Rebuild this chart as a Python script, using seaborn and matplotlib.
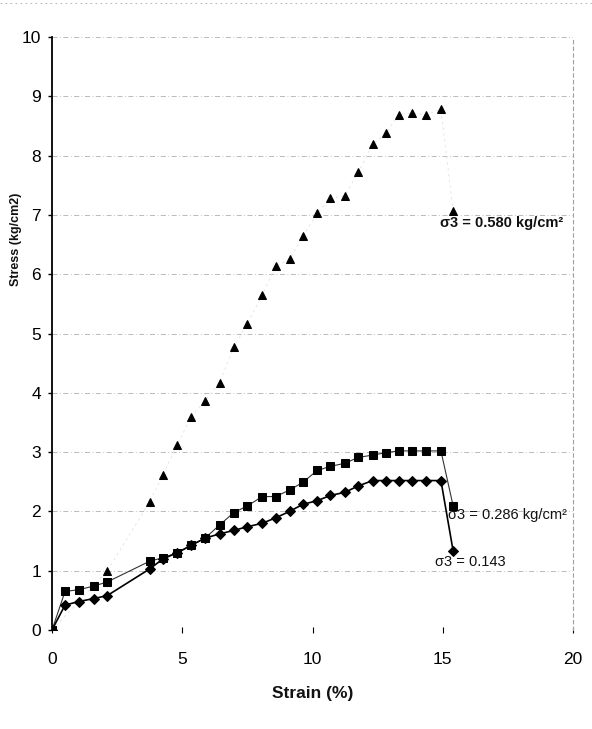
import matplotlib
matplotlib.use("Agg")
import matplotlib.pyplot as plt
from matplotlib.lines import Line2D
import pandas as pd
import seaborn as sns

# ---- data ----
strain = [0, 0.5, 1.03, 1.6, 2.12, 3.75, 4.26, 4.8, 5.35, 5.88, 6.43, 6.98, 7.49, 8.07,
          8.58, 9.12, 9.63, 10.18, 10.69, 11.23, 11.76, 12.31, 12.82, 13.31, 13.82,
          14.36, 14.93, 15.4]
stress_0143 = [0, 0.42, 0.48, 0.53, 0.58, 1.03, 1.20, 1.30, 1.43, 1.55, 1.62, 1.68, 1.74,
               1.80, 1.89, 2.00, 2.12, 2.18, 2.27, 2.32, 2.43, 2.52, 2.52, 2.52, 2.52,
               2.52, 2.52, 1.33]
stress_0286 = [0, 0.65, 0.68, 0.74, 0.81, 1.16, 1.22, 1.30, 1.43, 1.55, 1.77, 1.98, 2.09,
               2.25, 2.25, 2.36, 2.49, 2.69, 2.76, 2.81, 2.91, 2.95, 2.99, 3.02, 3.02,
               3.02, 3.02, 2.09]
strain_0580 = [0, 2.12, 3.75, 4.26, 4.8, 5.35, 5.88, 6.43, 6.98, 7.49, 8.07, 8.58, 9.12,
               9.63, 10.18, 10.69, 11.23, 11.76, 12.31, 12.82, 13.31, 13.82, 14.36,
               14.93, 15.4]
stress_0580 = [0, 1.0, 2.16, 2.62, 3.12, 3.6, 3.87, 4.17, 4.77, 5.16, 5.65, 6.13, 6.25,
               6.64, 7.03, 7.28, 7.32, 7.72, 8.19, 8.38, 8.69, 8.72, 8.69, 8.78, 7.07]

x_ticks = [0, 5, 10, 15, 20]
x_tick_labels = ["0", "5", "10", "15", "20"]
y_ticks = list(range(0, 11))

labels = ["σ3 = 0.580 kg/cm²", "σ3 = 0.286 kg/cm²", "σ3 = 0.143"]

df143 = pd.DataFrame({"strain": strain, "stress": stress_0143})
df286 = pd.DataFrame({"strain": strain, "stress": stress_0286})
df580 = pd.DataFrame({"strain": strain_0580, "stress": stress_0580})

# ---- figure ----
sns.set_theme(style="white")
plt.rcParams["font.family"] = ["Liberation Sans", "DejaVu Sans"]

W, H = 592, 729
fig = plt.figure(figsize=(W / 100, H / 100), dpi=100)
ax = fig.add_axes([52 / W, 1 - 630 / H, (573 - 52) / W, (630 - 37) / H])

# triangles (very faint line in the scan)
sns.lineplot(data=df580, x="strain", y="stress", ax=ax, sort=False, estimator=None,
             color="#e2e2e2", lw=0.6, linestyle=(0, (3, 4)), marker="^", markersize=6,
             markerfacecolor="black", markeredgecolor="black", zorder=3)
# squares
sns.lineplot(data=df286, x="strain", y="stress", ax=ax, sort=False, estimator=None,
             color="#333333", lw=0.8, marker="s", markersize=6,
             markerfacecolor="black", markeredgecolor="black", zorder=4)
# diamonds
sns.lineplot(data=df143, x="strain", y="stress", ax=ax, sort=False, estimator=None,
             color="black", lw=1.2, marker="D", markersize=5.5,
             markerfacecolor="black", markeredgecolor="black", zorder=5)

ax.set_xlim(0, 20)
ax.set_ylim(0, 10)
ax.set_xticks(x_ticks)
ax.set_xticklabels(x_tick_labels)
ax.set_yticks(y_ticks)

ax.grid(axis="y", color="#b0b0b0", lw=0.6, linestyle=(0, (6, 3, 1, 3)))
ax.grid(axis="x", visible=False)
ax.set_axisbelow(True)

for s in ["top", "bottom"]:
    ax.spines[s].set_visible(False)
ax.spines["left"].set_color("black")
ax.spines["left"].set_linewidth(1.3)
ax.spines["right"].set_color("#a0a0a0")
ax.spines["right"].set_linewidth(0.8)
ax.spines["right"].set_linestyle((0, (3, 3)))

ax.tick_params(axis="y", length=3, width=1, direction="out", pad=5,
               labelsize=12.5, colors="black", left=True)
ax.tick_params(axis="x", length=4, width=0.8, direction="inout", pad=14,
               labelsize=12.5, colors="black", bottom=True)

ax.set_xlabel("Strain (%)", fontsize=12.5, fontweight="bold", color="#111111")
ax.xaxis.set_label_coords(0.5, -0.094)
ax.set_ylabel("Stress (kg/cm2)", fontsize=9, fontweight="bold", color="#111111")
ax.yaxis.set_label_coords(-0.07, 0.658)
ax.yaxis.label.set_va("center")

ax.text(14.89, 6.86, labels[0], fontsize=10.5, fontweight="bold", va="center", ha="left",
        color="#111111")
ax.text(15.2, 1.94, labels[1], fontsize=10.5, va="center", ha="left", color="#111111")
ax.text(14.7, 1.15, labels[2], fontsize=10.5, va="center", ha="left", color="#111111")

fig.add_artist(Line2D([0, 1], [1 - 3 / H, 1 - 3 / H], transform=fig.transFigure,
                      color="#aaaaaa", lw=0.6, linestyle=(0, (2, 4))))

fig.savefig("out.png", dpi=100, facecolor="white")
